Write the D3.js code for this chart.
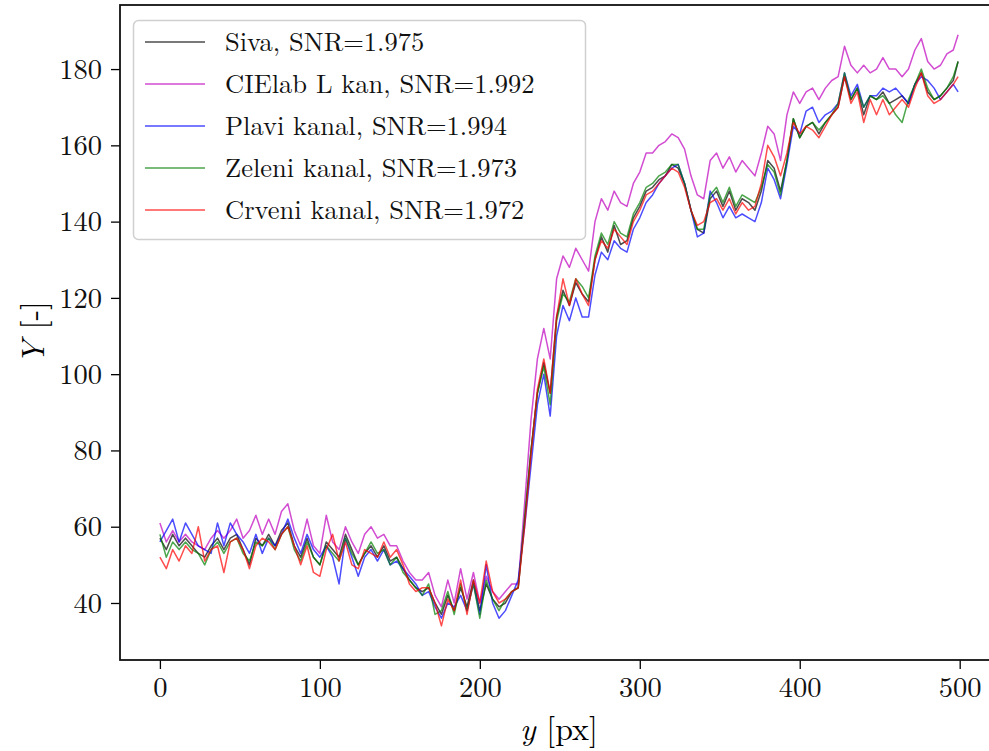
<!DOCTYPE html>
<html>
<head>
<meta charset="utf-8">
<script src="https://cdn.jsdelivr.net/npm/d3@7"></script>
<style>
body { margin: 0; background: #fff; }
svg { display: block; font-family: "Latin Modern Roman", "Liberation Serif", serif; }
</style>
</head>
<body>
<div id="svg"></div>
<script>
// sample positions along the profile [px]
var xs = [0,4,8,12,16,20,24,28,32,36,40,44,48,52,56,60,64,68,72,76,80,84,88,92,96,
  100,104,108,112,116,120,124,128,132,136,140,144,148,152,156,160,164,168,172,176,180,184,188,192,196,
  200,204,208,212,216,220,224,228,232,236,240,244,248,252,256,260,264,268,272,276,280,284,288,292,296,
  300,304,308,312,316,320,324,328,332,336,340,344,348,352,356,360,364,368,372,376,380,384,388,392,396,
  400,404,408,412,416,420,424,428,432,436,440,444,448,452,456,460,464,468,472,476,480,484,488,492,496,499];

var siva = [57,54,58,55,57,55,53,52,55,57,54,57,58,54,50,57,55,58,55,59,61,55,52,57,52,
  50,56,54,52,58,54,50,53,55,52,55,51,52,49,46,44,43,44,40,37,42,38,44,39,46,
  38,45,41,39,40,43,44,62,80,95,103,95,115,122,118,124,121,119,130,136,132,139,134,135,141,
  144,148,149,151,152,155,154,150,143,138,137,146,148,144,148,143,146,145,143,148,156,154,148,156,167,
  162,165,166,163,166,168,170,178,172,175,168,173,172,174,171,172,173,171,176,179,174,172,173,175,177,182];

var cielab = [61,56,59,56,58,56,55,54,57,59,57,59,62,57,59,63,58,62,58,64,66,59,55,62,55,
  53,63,56,54,60,56,53,58,60,57,58,55,55,51,48,46,46,48,42,39,46,40,49,41,48,
  40,47,43,41,43,45,45,66,88,104,112,104,125,131,128,133,130,127,140,146,143,148,145,144,150,
  153,158,158,160,161,163,162,159,152,147,146,156,158,154,157,153,156,154,152,158,165,163,156,168,174,
  171,174,175,172,175,177,178,186,181,179,181,179,180,183,180,180,178,180,185,188,182,180,181,184,185,189];

var plavi = [56,59,62,56,61,58,55,54,53,61,55,61,58,56,53,58,53,57,55,58,62,57,53,58,54,
  52,55,52,45,57,52,47,52,54,51,54,50,51,49,47,45,42,43,39,36,40,39,42,38,45,
  37,50,40,36,38,42,46,60,76,92,100,89,110,118,114,120,115,115,126,132,130,135,133,132,138,
  141,145,147,150,152,154,155,150,143,136,137,148,145,141,144,141,142,141,140,145,154,151,146,155,165,
  163,169,170,166,168,169,171,179,173,176,170,173,173,175,174,175,173,171,176,178,177,175,172,174,176,174];

var zeleni = [58,52,56,54,56,54,53,50,54,56,53,56,57,53,51,56,55,57,54,58,60,54,51,56,52,
  50,55,53,51,57,53,50,53,56,53,54,50,52,48,46,44,42,45,37,38,43,37,45,38,45,
  36,46,41,38,41,43,44,62,80,95,102,92,114,121,119,125,123,120,131,137,134,140,137,136,142,
  145,149,150,152,153,155,155,150,143,138,138,147,149,145,149,144,147,146,145,149,155,153,147,156,167,
  162,165,166,164,166,168,171,179,172,175,170,173,172,173,171,168,166,172,176,180,175,172,173,175,178,182];

var crveni = [52,49,54,51,55,53,60,51,54,55,48,56,57,54,49,55,57,56,54,58,60,55,50,55,48,
  47,54,58,51,56,50,49,54,53,52,56,52,54,50,45,43,44,44,40,34,41,38,46,37,46,
  40,51,43,40,41,43,44,60,79,96,104,95,115,125,118,125,121,118,130,135,133,138,136,134,140,
  143,147,148,150,152,154,153,149,143,139,140,145,146,143,146,142,145,143,144,150,160,157,152,158,166,
  163,165,164,162,165,168,170,178,171,174,166,172,168,172,168,170,172,170,175,179,173,171,172,174,176,178];

var seriesNames = ["Siva, SNR=1.975", "CIElab L kan, SNR=1.992", "Plavi kanal, SNR=1.994",
  "Zeleni kanal, SNR=1.973", "Crveni kanal, SNR=1.972"];
var seriesColors = ["#000000", "#bf00bf", "#0000ff", "#008000", "#ff0000"];
var xTicks = [0, 100, 200, 300, 400, 500];
var yTicks = [40, 60, 80, 100, 120, 140, 160, 180];

var series = [siva, cielab, plavi, zeleni, crveni].map(function(vals, i){
	return {name: seriesNames[i], color: seriesColors[i],
		values: vals.map(function(v, j){ return {x: xs[j], y: v}; })};
});

var w = 989, h = 751;
var svg = d3.select("#svg").append("svg")
	.attr("width", w)
	.attr("height", h);

// plot box; the right edge falls just outside the page
var box = {left: 120, top: 5, right: 998, bottom: 660};

var x = d3.scaleLinear().domain([-24.95, 523.95]).range([box.left, box.right]);
var y = d3.scaleLinear().domain([25.05, 196.8]).range([box.bottom, box.top]);

var line = d3.line()
	.x(function(d){ return x(d.x); })
	.y(function(d){ return y(d.y); });

svg.append("clipPath").attr("id", "plotclip")
	.append("rect")
	.attr("x", box.left).attr("y", box.top)
	.attr("width", box.right - box.left).attr("height", box.bottom - box.top);

svg.append("g")
	.attr("clip-path", "url(#plotclip)")
	.selectAll(".line")
	.data(series)
	.enter().append("path")
	.attr("class", "line")
	.attr("d", function(d){ return line(d.values); })
	.style("fill", "none")
	.style("stroke", function(d){ return d.color; })
	.style("stroke-opacity", 0.7)
	.style("stroke-width", 1.5)
	.style("stroke-linejoin", "round");

// axes
var xAxis = svg.append("g")
	.attr("transform", "translate(0," + box.bottom + ")")
	.call(d3.axisBottom(x).tickValues(xTicks).tickSize(9).tickPadding(8).tickSizeOuter(0));
var yAxis = svg.append("g")
	.attr("transform", "translate(" + box.left + ",0)")
	.call(d3.axisLeft(y).tickValues(yTicks).tickSize(9).tickPadding(9).tickSizeOuter(0));

[xAxis, yAxis].forEach(function(a){
	a.select(".domain").remove();
	a.selectAll("line").style("stroke", "#000").style("stroke-width", 1.3);
	a.selectAll("text")
		.style("font-family", "'Latin Modern Roman', 'Liberation Serif', serif")
		.style("font-size", "28.5px")
		.style("fill", "#111");
});

svg.append("rect")
	.attr("x", box.left).attr("y", box.top)
	.attr("width", box.right - box.left).attr("height", box.bottom - box.top)
	.style("fill", "none")
	.style("stroke", "#111")
	.style("stroke-width", 1.8);

// axis labels
var xl = svg.append("text")
	.attr("x", (box.left + box.right) / 2)
	.attr("y", 740)
	.attr("text-anchor", "middle")
	.style("font-size", "32px");
xl.append("tspan").style("font-style", "italic").text("y");
xl.append("tspan").text(" [px]");

var yl = svg.append("text")
	.attr("transform", "translate(44," + ((box.top + box.bottom) / 2) + ") rotate(-90)")
	.attr("text-anchor", "middle")
	.style("font-size", "32px");
yl.append("tspan").style("font-style", "italic").text("Y");
yl.append("tspan").text(" [-]");

// legend
var legend = svg.append("g");
legend.append("rect")
	.attr("x", 133.5).attr("y", 20.5)
	.attr("width", 452).attr("height", 219)
	.attr("rx", 5)
	.style("fill", "#fff")
	.style("fill-opacity", 0.85)
	.style("stroke", "#d0d0d0")
	.style("stroke-width", 1.5);

var item = legend.selectAll(".item")
	.data(series)
	.enter().append("g")
	.attr("class", "item")
	.attr("transform", function(d, i){ return "translate(0," + (42 + i * 42) + ")"; });

item.append("line")
	.attr("x1", 145).attr("x2", 205)
	.style("stroke", function(d){ return d.color; })
	.style("stroke-opacity", 0.7)
	.style("stroke-width", 1.5);

item.append("text")
	.attr("x", 225)
	.attr("dy", "0.33em")
	.style("font-size", "26.5px")
	.style("fill", "#111")
	.text(function(d){ return d.name; });
</script>
</body>
</html>
